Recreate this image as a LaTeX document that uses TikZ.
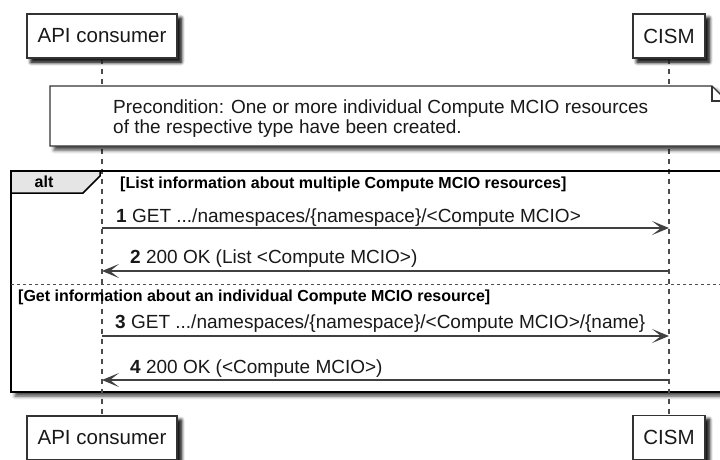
\documentclass[tikz,border=0pt]{standalone}
\usepackage{fontspec}
\setmainfont{Liberation Sans}
\usetikzlibrary{arrows.meta,shadows.blur}

\tikzset{
  softshadow/.style={blur shadow={shadow xshift=4pt, shadow yshift=-4pt,
      shadow blur radius=3.5pt, shadow opacity=75}},
  participant/.style={draw=black!80, line width=1.2pt, fill=white,
      minimum height=44pt, inner sep=0pt, text=black!90,
      font=\fontsize{20.5}{24}\selectfont, softshadow},
  lifeline/.style={draw=black!70, line width=1.3pt, dash pattern=on 5pt off 5pt},
  msg/.style={draw=black!75, line width=1.3pt,
      -{Stealth[length=17pt, width=14pt, inset=9pt]}},
  msglabel/.style={anchor=base west, inner sep=0pt, text=black!90,
      font=\fontsize{19}{22}\selectfont},
  guard/.style={anchor=base west, inner sep=0pt, text=black,
      font=\bfseries\fontsize{16}{19}\selectfont},
  notetext/.style={anchor=base west, inner sep=0pt, align=left, text=black!90,
      font=\fontsize{19}{20}\selectfont},
}

\begin{document}
\begin{tikzpicture}[x=1pt, y=-1pt]
\useasboundingbox (0,0) rectangle (720,459);
\clip (0,0) rectangle (720,459);

% participants, top and bottom
\node[participant, minimum width=150pt] (apiTop)  at (102,36)    {API consumer};
\node[participant, minimum width=72pt]  (cismTop) at (669,36)    {CISM};
\node[participant, minimum width=150pt] (apiBot)  at (102,438)   {API consumer};
\node[participant, minimum width=72pt]  (cismBot) at (669,437.5) {CISM};

% alt combined fragment
\draw[line width=2.5pt, fill=white, softshadow] (11,171) rectangle (740,392);

% lifelines
\draw[lifeline] (apiTop.south) -- (apiBot.north);
\draw[lifeline] (cismTop.south) -- (cismBot.north);

% participants redrawn above the lifelines
\node[participant, minimum width=150pt] at (apiTop)  {API consumer};
\node[participant, minimum width=72pt]  at (cismTop) {CISM};
\node[participant, minimum width=150pt] at (apiBot)  {API consumer};
\node[participant, minimum width=72pt]  at (cismBot) {CISM};

% precondition note with folded corner
\draw[draw=black!80, line width=1.2pt, fill=white, softshadow]
  (50,86) -- (712,86) -- (727,101) -- (727,146) -- (50,146) -- cycle;
\draw[draw=black!80, line width=1.2pt] (712,86) -- (712,101) -- (727,101);
\node[notetext] (pre) at (113,133)
  {Precondition: One or more individual Compute MCIO resources\\
   of the respective type have been created.};

% fragment tab
\draw[line width=1.5pt, fill=black!10]
  (11,171) -- (100,171) -- (100,176) -- (83,193) -- (11,193) -- cycle;
\draw[line width=2.5pt] (11,171) -- (740,171);
\node[font=\bfseries\fontsize{16}{19}\selectfont, text=black, inner sep=0pt]
  (altlbl) at (44,182) {alt};

% operand separator
\draw[draw=black!70, line width=1pt, dash pattern=on 3pt off 3pt] (11,284) -- (740,284);

% guards
\node[guard] (g1) at (120,188) {[List information about multiple Compute MCIO resources]};
\node[guard] (g2) at (18,301)  {[Get information about an individual Compute MCIO resource]};

% message anchor points on the lifelines
\coordinate (a1) at (apiTop.south |- 0,228);
\coordinate (c1) at (cismTop.south |- 0,228);
\coordinate (a2) at (apiTop.south |- 0,271);
\coordinate (c2) at (cismTop.south |- 0,271);
\coordinate (a3) at (apiTop.south |- 0,336);
\coordinate (c3) at (cismTop.south |- 0,336);
\coordinate (a4) at (apiTop.south |- 0,380);
\coordinate (c4) at (cismTop.south |- 0,380);

% messages
\draw[msg] (a1) -- (c1);
\node[msglabel] (l1) at (116,222) {\textbf{1} GET .../namespaces/\{namespace\}/<Compute MCIO>};
\draw[msg] (c2) -- (a2);
\node[msglabel] (l2) at (130,263) {\textbf{2} 200 OK (List <Compute MCIO>)};
\draw[msg] (a3) -- (c3);
\node[msglabel] (l3) at (115,328) {\textbf{3} GET .../namespaces/\{namespace\}/<Compute MCIO>/\{name\}};
\draw[msg] (c4) -- (a4);
\node[msglabel] (l4) at (130,373) {\textbf{4} 200 OK (<Compute MCIO>)};
\end{tikzpicture}
\end{document}
